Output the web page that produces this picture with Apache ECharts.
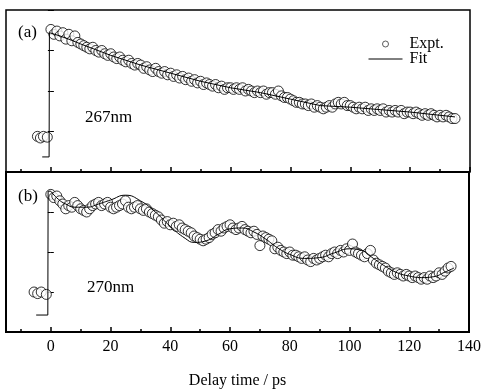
<!DOCTYPE html>
<html><head><meta charset="utf-8">
<script src="https://cdn.jsdelivr.net/npm/echarts@6/dist/echarts.min.js"></script>
<style>html,body{margin:0;padding:0;background:#fff}#c{width:484px;height:390px}</style>
</head><body><div id="c"></div>
<script>
// ---- data (panel a, 267 nm) ----
const timeA = [0,1,2,3,4,5,6,7,8,9,10,11,12,13,14,15,16,17,18,19,20,21,22,23,24,25,26,27,28,29,30,31,32,33,34,35,36,37,38,39,40,41,42,43,44,45,46,47,48,49,50,51,52,53,54,55,56,57,58,59,60,61,62,63,64,65,66,67,68,69,70,71,72,73,74,75,76,77,78,79,80,81,82,83,84,85,86,87,88,89,90,91,92,93,94,95,96,97,98,99,100,101,102,103,104,105,106,107,108,109,110,111,112,113,114,115,116,117,118,119,120,121,122,123,124,125,126,127,128,129,130,131,132,133,134,135];
const exptA = [88,85,87,84,86,82,85,81,84,80,79,78,77,76,77,75,74,75,73,72,73,71,70,71,69,68,69,67,66,67,66,64,65,63,62,64,62,61,62,60,61,59,60,58,59,57,58,56,57,55,56,54,55,54,53,54,52,53,51,52,52,51,52,51,52,50,51,50,49,50,49,50,48,49,49,48,50,47,46,46,45,44,43,43,42,42,41,42,40,41,40,39,40,41,40,42,43,42,43,41,41,40,39,40,39,40,38,39,38,39,38,39,37,38,37,38,37,38,36,37,37,36,37,36,35,36,35,36,35,34,35,34,35,34,33,33];
const preTimeA = [-4.5,-3.5,-2.5,-1.2];
const preExptA = [22,21,22,21.5];
const fitTimeA = [-2.9,-0.6,-0.5,0,3,6,10,15,20,30,40,50,60,70,80,90,100,110,120,130,135];
const fitA = [9.3,9.3,86,86,84,82,79,75.5,72,66,61,56,52,49,45,41,40,38.5,37,35,34];

// ---- data (panel b, 270 nm) ----
const timeB = [0,1,2,3,4,5,6,7,8,9,10,11,12,13,14,15,16,17,18,19,20,21,22,23,24,25,26,27,28,29,30,31,32,33,34,35,36,37,38,39,40,41,42,43,44,45,46,47,48,49,50,51,52,53,54,55,56,57,58,59,60,61,62,63,64,65,66,67,68,69,70,71,72,73,74,75,76,77,78,79,80,81,82,83,84,85,86,87,88,89,90,91,92,93,94,95,96,97,98,99,100,101,102,103,104,105,106,107,108,109,110,111,112,113,114,115,116,117,118,119,120,121,122,123,124,125,126,127,128,129,130,131,132,133,134];
const exptB = [86,84,85,82,80,77,79,78,81,79,77,76,75,77,79,80,81,79,80,81,78,77,78,79,80,82,78,77,78,79,77,76,77,75,74,73,72,70,68,69,67,68,66,67,65,64,63,62,60,59,58,57,58,59,61,62,64,63,65,66,67,65,64,65,66,64,63,62,63,61,54,60,59,58,57,52,53,51,50,49,50,48,48,47,46,47,45,44,46,45,46,47,48,47,49,50,49,51,50,52,51,55,50,49,48,47,49,51,45,43,42,41,40,38,37,36,37,36,35,36,35,34,35,34,33,34,33,35,34,35,37,36,38,40,41];
const preTimeB = [-5.6,-4.4,-3.2,-1.5];
const preExptB = [25,24,25,23.5];
const fitStepTimeB = [-4.9,-1,-0.9,0];
const fitStepB = [10.6,10.6,88,88];
const fitTimeB = [0,2.5,5,8,12,16,20,25,30,35,40,45,48,52,56,60,64,68,72,76,80,85,90,95,100,104,108,112,116,120,124,128,132,135];
const fitB = [88,83,80,78,78,80,82.5,85.5,82,75,66,58.5,56,57,61,64.5,65,62.5,58,52.5,48.5,46,46.5,49.5,52,51,46,41,37,35,34,34.5,37.5,40];

// ---- axis ticks / labels ----
const majorTicks = [0,20,40,60,80,100,120,140];
const minorTicks = [-10,10,30,50,70,90,110,130];
const xTitle = 'Delay time / ps';

const pairs = (xs, ys) => xs.map((x, i) => [x, ys[i]]);
const FONT = "'Liberation Serif','DejaVu Serif',serif";

const exptStyle = {color:'#fff', borderColor:'#000', borderWidth:1};
function scatter(name, xi, yi, xs, ys) {
  return {name, type:'scatter', xAxisIndex:xi, yAxisIndex:yi, data:pairs(xs, ys),
    symbol:'circle', symbolSize:10, itemStyle:exptStyle, z:3};
}
function fitLine(name, xi, yi, xs, ys, smooth) {
  return {name, type:'line', xAxisIndex:xi, yAxisIndex:yi, data:pairs(xs, ys),
    symbol:'none', smooth:smooth, itemStyle:{color:'#000'}, lineStyle:{color:'#000', width:1}, z:4};
}
function xAx(grid, ticks, len, labels, name) {
  return {gridIndex:grid, type:'value', min:-15, max:140, position:'bottom',
    axisLine:{show:false},
    axisTick:{show:true, inside:true, length:len, customValues:ticks, lineStyle:{color:'#000', width:1.5}},
    axisLabel:{show:labels, customValues:majorTicks, color:'#000', fontFamily:FONT, fontSize:16, margin:7},
    splitLine:{show:false},
    name: name || '', nameLocation:'middle', nameGap:41,
    nameTextStyle:{color:'#000', fontFamily:FONT, fontSize:16}};
}
function yAx(grid, pos) {
  return {gridIndex:grid, type:'value', min:0, max:100, interval:25, position:pos,
    axisLine:{show:false}, axisLabel:{show:false}, splitLine:{show:false},
    axisTick:{show:true, inside:true, length:3, lineStyle:{color:'#000'}}};
}

const chart = echarts.init(document.getElementById('c'), null, {renderer:'canvas'});
chart.setOption({
  animation:false,
  backgroundColor:'#fff',
  grid:[
    {left:6, right:14, top:10, height:162, show:true, borderColor:'#000', borderWidth:1.5, backgroundColor:'transparent'},
    {left:6, right:14, top:172, height:160, show:true, borderColor:'#000', borderWidth:2, backgroundColor:'transparent'}
  ],
  xAxis:[
    xAx(0, majorTicks, 5, false),
    xAx(0, minorTicks, 3, false),
    xAx(1, majorTicks, 5, true, xTitle),
    xAx(1, minorTicks, 3, false)
  ],
  yAxis:[ yAx(0,'left'), yAx(0,'right'), yAx(1,'left'), yAx(1,'right') ],
  legend:{
    orient:'vertical', left:363, top:31, itemWidth:34, itemHeight:6, itemGap:-1,
    data:[
      {name:'Expt.', icon:'circle', itemStyle:{color:'#fff', borderColor:'#000', borderWidth:0.8}},
      {name:'Fit', itemStyle:{opacity:0}, lineStyle:{color:'#000', width:1}}
    ],
    textStyle:{color:'#000', fontFamily:FONT, fontSize:16, lineHeight:13, padding:[0,0,0,2]}
  },
  graphic:[
    {type:'text', left:18, top:24, style:{text:'(a)', font:"17px 'Liberation Serif'", fill:'#000'}},
    {type:'text', left:18, top:188, style:{text:'(b)', font:"17px 'Liberation Serif'", fill:'#000'}},
    {type:'text', left:85, top:109, style:{text:'267nm', font:"17px 'Liberation Serif'", fill:'#000'}},
    {type:'text', left:87, top:279, style:{text:'270nm', font:"17px 'Liberation Serif'", fill:'#000'}}
  ],
  series:[
    scatter('Expt.', 0, 0, timeA, exptA),
    scatter('Expt.', 0, 0, preTimeA, preExptA),
    fitLine('Fit', 0, 0, fitTimeA, fitA, false),
    scatter('Expt.', 2, 2, timeB, exptB),
    scatter('Expt.', 2, 2, preTimeB, preExptB),
    fitLine('Fit', 2, 2, fitStepTimeB, fitStepB, false),
    fitLine('Fit', 2, 2, fitTimeB, fitB, true)
  ]
});
</script></body></html>
